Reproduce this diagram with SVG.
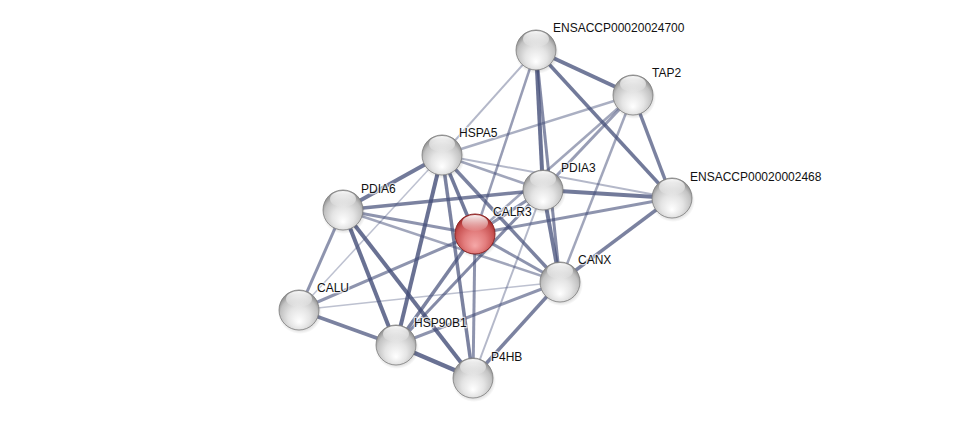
<svg xmlns="http://www.w3.org/2000/svg" width="975" height="424" viewBox="0 0 975 424">
<defs>
<radialGradient id="gs" cx="0.5" cy="0.6" r="0.55" fx="0.5" fy="0.8">
<stop offset="0" stop-color="#ffffff"/>
<stop offset="0.5" stop-color="#e4e4e4"/>
<stop offset="0.85" stop-color="#c2c2c2"/>
<stop offset="1" stop-color="#959595"/>
</radialGradient>
<radialGradient id="gr" cx="0.5" cy="0.6" r="0.55" fx="0.5" fy="0.8">
<stop offset="0" stop-color="#f5a8a8"/>
<stop offset="0.5" stop-color="#e27c7c"/>
<stop offset="0.85" stop-color="#c85252"/>
<stop offset="1" stop-color="#a83030"/>
</radialGradient>
<linearGradient id="gl" x1="0" y1="0" x2="0" y2="1">
<stop offset="0" stop-color="#ffffff" stop-opacity="0.95"/>
<stop offset="1" stop-color="#ffffff" stop-opacity="0.05"/>
</linearGradient>
<radialGradient id="sh" cx="0.5" cy="0.5" r="0.5">
<stop offset="0.7" stop-color="#000" stop-opacity="0.2"/>
<stop offset="1" stop-color="#000" stop-opacity="0"/>
</radialGradient>
</defs>
<style>
.e{stroke:#434d78;fill:none;stroke-linecap:butt}
.n{fill:url(#gs);stroke:#7e7e7e;stroke-width:0.8}
.r{fill:url(#gr);stroke:#8e2a2a;stroke-width:1}
.g{fill:url(#gl)}
.s{fill:url(#sh)}
text{font-family:"Liberation Sans",Arial,sans-serif;font-size:12px;fill:#111;stroke:#fff;stroke-width:2.5;stroke-opacity:0.7;paint-order:stroke;stroke-linejoin:round}
</style>
<rect width="975" height="424" fill="#fff"/>
<g id="edges">
<line class="e" x1="536" y1="50" x2="633" y2="95" stroke-width="4" stroke-opacity="0.75"/>
<line class="e" x1="536" y1="50" x2="442" y2="155" stroke-width="2" stroke-opacity="0.4"/>
<line class="e" x1="536" y1="50" x2="475" y2="234" stroke-width="2.5" stroke-opacity="0.55"/>
<line class="e" x1="536" y1="50" x2="543" y2="190" stroke-width="4" stroke-opacity="0.8"/>
<line class="e" x1="536" y1="50" x2="560" y2="282" stroke-width="3" stroke-opacity="0.65"/>
<line class="e" x1="536" y1="50" x2="672" y2="198" stroke-width="3.5" stroke-opacity="0.75"/>
<line class="e" x1="633" y1="95" x2="442" y2="155" stroke-width="2.5" stroke-opacity="0.45"/>
<line class="e" x1="633" y1="95" x2="543" y2="190" stroke-width="3" stroke-opacity="0.55"/>
<line class="e" x1="633" y1="95" x2="475" y2="234" stroke-width="2.5" stroke-opacity="0.5"/>
<line class="e" x1="633" y1="95" x2="560" y2="282" stroke-width="2.5" stroke-opacity="0.5"/>
<line class="e" x1="633" y1="95" x2="672" y2="198" stroke-width="3.5" stroke-opacity="0.7"/>
<line class="e" x1="442" y1="155" x2="343" y2="210" stroke-width="4" stroke-opacity="0.75"/>
<line class="e" x1="442" y1="155" x2="299" y2="310" stroke-width="1.5" stroke-opacity="0.35"/>
<line class="e" x1="442" y1="155" x2="396" y2="345" stroke-width="4" stroke-opacity="0.8"/>
<line class="e" x1="442" y1="155" x2="473" y2="378" stroke-width="3.5" stroke-opacity="0.7"/>
<line class="e" x1="442" y1="155" x2="475" y2="234" stroke-width="3.5" stroke-opacity="0.75"/>
<line class="e" x1="442" y1="155" x2="560" y2="282" stroke-width="3.5" stroke-opacity="0.7"/>
<line class="e" x1="442" y1="155" x2="543" y2="190" stroke-width="2.5" stroke-opacity="0.5"/>
<line class="e" x1="442" y1="155" x2="672" y2="198" stroke-width="2" stroke-opacity="0.4"/>
<line class="e" x1="343" y1="210" x2="543" y2="190" stroke-width="3.5" stroke-opacity="0.7"/>
<line class="e" x1="343" y1="210" x2="475" y2="234" stroke-width="3" stroke-opacity="0.6"/>
<line class="e" x1="343" y1="210" x2="560" y2="282" stroke-width="2.5" stroke-opacity="0.5"/>
<line class="e" x1="343" y1="210" x2="299" y2="310" stroke-width="3" stroke-opacity="0.6"/>
<line class="e" x1="343" y1="210" x2="396" y2="345" stroke-width="4" stroke-opacity="0.8"/>
<line class="e" x1="343" y1="210" x2="473" y2="378" stroke-width="4" stroke-opacity="0.8"/>
<line class="e" x1="543" y1="190" x2="672" y2="198" stroke-width="4" stroke-opacity="0.75"/>
<line class="e" x1="543" y1="190" x2="475" y2="234" stroke-width="3" stroke-opacity="0.6"/>
<line class="e" x1="543" y1="190" x2="560" y2="282" stroke-width="4" stroke-opacity="0.75"/>
<line class="e" x1="543" y1="190" x2="396" y2="345" stroke-width="3" stroke-opacity="0.65"/>
<line class="e" x1="543" y1="190" x2="473" y2="378" stroke-width="2" stroke-opacity="0.4"/>
<line class="e" x1="475" y1="234" x2="672" y2="198" stroke-width="3" stroke-opacity="0.6"/>
<line class="e" x1="475" y1="234" x2="560" y2="282" stroke-width="3" stroke-opacity="0.6"/>
<line class="e" x1="475" y1="234" x2="299" y2="310" stroke-width="3" stroke-opacity="0.6"/>
<line class="e" x1="475" y1="234" x2="396" y2="345" stroke-width="3.5" stroke-opacity="0.7"/>
<line class="e" x1="475" y1="234" x2="473" y2="378" stroke-width="3" stroke-opacity="0.6"/>
<line class="e" x1="560" y1="282" x2="672" y2="198" stroke-width="3.5" stroke-opacity="0.7"/>
<line class="e" x1="560" y1="282" x2="299" y2="310" stroke-width="1.5" stroke-opacity="0.35"/>
<line class="e" x1="560" y1="282" x2="396" y2="345" stroke-width="3" stroke-opacity="0.6"/>
<line class="e" x1="560" y1="282" x2="473" y2="378" stroke-width="3.5" stroke-opacity="0.7"/>
<line class="e" x1="299" y1="310" x2="396" y2="345" stroke-width="3.5" stroke-opacity="0.7"/>
<line class="e" x1="396" y1="345" x2="473" y2="378" stroke-width="4.5" stroke-opacity="0.8"/>
</g>
<g id="ENSACCP00020024700"><ellipse class="s" cx="537" cy="53" rx="22" ry="21"/><circle class="n" cx="536" cy="50" r="20"/><ellipse class="g" cx="536" cy="39" rx="13" ry="8"/><text x="553" y="32">ENSACCP00020024700</text></g>
<g id="TAP2"><ellipse class="s" cx="634" cy="98" rx="22" ry="21"/><circle class="n" cx="633" cy="95" r="20"/><ellipse class="g" cx="633" cy="84" rx="13" ry="8"/><text x="652" y="77">TAP2</text></g>
<g id="HSPA5"><ellipse class="s" cx="443" cy="158" rx="22" ry="21"/><circle class="n" cx="442" cy="155" r="20"/><ellipse class="g" cx="442" cy="144" rx="13" ry="8"/><text x="459" y="137">HSPA5</text></g>
<g id="PDIA3"><ellipse class="s" cx="544" cy="193" rx="22" ry="21"/><circle class="n" cx="543" cy="190" r="20"/><ellipse class="g" cx="543" cy="179" rx="13" ry="8"/><text x="561" y="172">PDIA3</text></g>
<g id="ENSACCP00020002468"><ellipse class="s" cx="673" cy="201" rx="22" ry="21"/><circle class="n" cx="672" cy="198" r="20"/><ellipse class="g" cx="672" cy="187" rx="13" ry="8"/><text x="690" y="181">ENSACCP00020002468</text></g>
<g id="PDIA6"><ellipse class="s" cx="344" cy="213" rx="22" ry="21"/><circle class="n" cx="343" cy="210" r="20"/><ellipse class="g" cx="343" cy="199" rx="13" ry="8"/><text x="361" y="193">PDIA6</text></g>
<g id="CALR3"><ellipse class="s" cx="476" cy="237" rx="22" ry="21"/><circle class="r" cx="475" cy="234" r="20"/><ellipse class="g" cx="475" cy="223" rx="13" ry="8"/><text x="493" y="216">CALR3</text></g>
<g id="CANX"><ellipse class="s" cx="561" cy="285" rx="22" ry="21"/><circle class="n" cx="560" cy="282" r="20"/><ellipse class="g" cx="560" cy="271" rx="13" ry="8"/><text x="578" y="264">CANX</text></g>
<g id="CALU"><ellipse class="s" cx="300" cy="313" rx="22" ry="21"/><circle class="n" cx="299" cy="310" r="20"/><ellipse class="g" cx="299" cy="299" rx="13" ry="8"/><text x="317" y="292">CALU</text></g>
<g id="HSP90B1"><ellipse class="s" cx="397" cy="348" rx="22" ry="21"/><circle class="n" cx="396" cy="345" r="20"/><ellipse class="g" cx="396" cy="334" rx="13" ry="8"/><text x="414" y="327">HSP90B1</text></g>
<g id="P4HB"><ellipse class="s" cx="474" cy="381" rx="22" ry="21"/><circle class="n" cx="473" cy="378" r="20"/><ellipse class="g" cx="473" cy="367" rx="13" ry="8"/><text x="491" y="361">P4HB</text></g>
</svg>
